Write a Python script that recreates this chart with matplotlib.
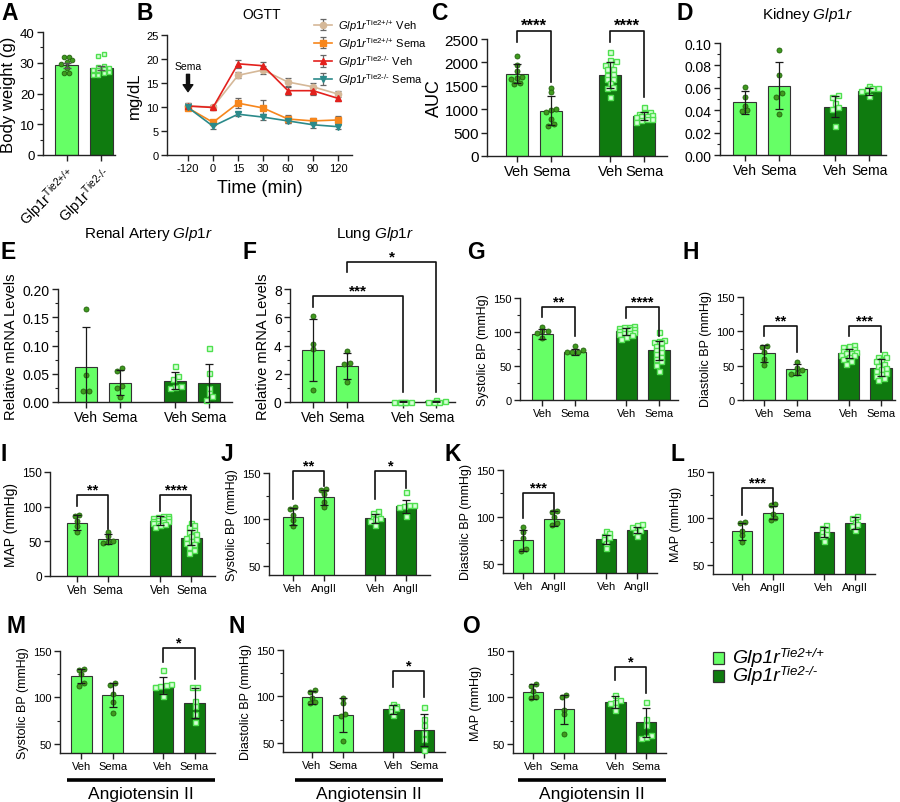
import numpy as np
import matplotlib
matplotlib.use('Agg')
import matplotlib.pyplot as plt
from matplotlib.patches import Rectangle
from matplotlib.lines import Line2D
from matplotlib.ticker import MultipleLocator

plt.rcParams['font.family'] = 'Liberation Sans'
plt.rcParams['mathtext.fontset'] = 'custom'
plt.rcParams['mathtext.rm'] = 'Liberation Sans'
plt.rcParams['mathtext.it'] = 'Liberation Sans:italic'
plt.rcParams['mathtext.bf'] = 'Liberation Sans:bold'
plt.rcParams['axes.linewidth'] = 1.0

# ---------------- data ----------------
# A: body weight
A_groups = [r'Glp1r$^{\text{Tie2+/+}}$', r'Glp1r$^{\text{Tie2-/-}}$']
A_means = [29.2, 28.4]
A_sem = [0.8, 0.6]
A_pts = [[31.8, 31.8, 31.0, 30.2, 29.7, 28.2, 26.7, 26.7],
         [32.9, 32.2, 29.1, 28.6, 28.3, 28.0, 27.8, 27.5, 27.0, 26.6, 26.1, 26.1]]

# B: OGTT
B_times = ['-120', '0', '15', '30', '60', '90', '120']
B_wt_veh = [10.2, 10.0, 16.6, 17.7, 15.2, 14.2, 12.7]
B_wt_veh_sem = [0.6, 0.5, 0.6, 0.9, 0.8, 0.8, 0.7]
B_wt_sema = [9.8, 6.8, 10.8, 9.8, 7.5, 7.1, 7.3]
B_wt_sema_sem = [0.5, 0.5, 1.1, 1.6, 0.8, 0.7, 0.9]
B_ko_veh = [10.2, 9.9, 19.0, 18.6, 13.4, 13.4, 11.8]
B_ko_veh_sem = [0.6, 0.5, 0.8, 0.8, 0.8, 0.8, 0.6]
B_ko_sema = [9.9, 6.0, 8.5, 7.9, 7.1, 6.3, 5.9]
B_ko_sema_sem = [0.5, 0.5, 0.4, 0.6, 0.5, 0.6, 0.5]
B_names = [r'$\mathit{Glp1r}^{\text{Tie2+/+}}$ Veh', r'$\mathit{Glp1r}^{\text{Tie2+/+}}$ Sema',
           r'$\mathit{Glp1r}^{\text{Tie2-/-}}$ Veh', r'$\mathit{Glp1r}^{\text{Tie2-/-}}$ Sema']

treat_sema = ['Veh', 'Sema', 'Veh', 'Sema']
treat_ang = ['Veh', 'AngII', 'Veh', 'AngII']

C_means = [1760, 970, 1730, 850]
C_sd = [210, 310, 270, 90]
C_pts = [[2140, 1940, 1820, 1680, 1660, 1640, 1570, 1540],
         [1450, 1360, 1000, 990, 930, 790, 680, 645],
         [2220, 2050, 2030, 1970, 1950, 1860, 1850, 1750, 1740, 1640, 1640, 1550, 1470, 1450, 1260],
         [1050, 950, 920, 900, 880, 860, 850, 830, 800, 780, 760, 730]]

D_means = [0.047, 0.062, 0.043, 0.057]
D_sd = [0.010, 0.021, 0.0095, 0.003]
D_pts = [[0.061, 0.052, 0.044, 0.040, 0.039],
         [0.094, 0.071, 0.055, 0.052, 0.037],
         [0.054, 0.052, 0.046, 0.043, 0.041, 0.026],
         [0.062, 0.060, 0.0595, 0.059, 0.057, 0.053]]

E_means = [0.062, 0.034, 0.038, 0.034]
E_sd = [0.070, 0.022, 0.015, 0.034]
E_pts = [[0.165, 0.047, 0.019, 0.019],
         [0.060, 0.055, 0.028, 0.024, 0.009],
         [0.063, 0.046, 0.040, 0.028, 0.026, 0.025],
         [0.095, 0.051, 0.025, 0.016, 0.010, 0.004]]

F_means = [3.7, 2.55, 0.03, 0.05]
F_sd = [2.2, 0.9, 0.01, 0.03]
F_pts = [[6.1, 4.1, 3.75, 0.85],
         [3.6, 2.75, 2.7, 1.4],
         [0.03, 0.03, 0.02, 0.02, 0.02, 0.03],
         [0.12, 0.08, 0.02, 0.02, 0.01]]

G_means = [97, 71, 101, 73]
G_sd = [7, 4.5, 5, 14]
G_pts = [[108, 102, 101, 98, 91],
         [79, 73, 71, 70, 70],
         [109, 108, 107, 106, 105, 104, 103, 102, 100, 99, 98, 97, 95, 93, 90],
         [100, 88, 87, 86, 85, 80, 77, 73, 70, 67, 63, 60, 57, 52, 43]]

H_means = [68, 45, 68, 47]
H_sd = [12, 8, 7, 12]
H_pts = [[79, 77, 70, 60, 51],
         [56, 47, 43, 40, 38],
         [80, 79, 77, 75, 72, 71, 70, 69, 68, 66, 65, 63, 60, 57, 53],
         [67, 63, 62, 58, 57, 52, 50, 47, 45, 42, 40, 38, 35, 32, 29]]

I_means = [77, 53, 80, 55]
I_sd = [11, 7, 6, 11]
I_pts = [[88, 86, 79, 72, 63],
         [63, 57, 51, 49, 48],
         [87, 86, 85, 84, 83, 82, 81, 80, 79, 78, 77, 76, 75, 73, 70],
         [77, 73, 70, 66, 63, 60, 57, 55, 53, 50, 48, 46, 42, 38, 33]]

J_means = [103, 124, 101, 114]
J_sd = [9, 8, 5, 7]
J_pts = [[113, 111, 105, 99, 93],
         [133, 132, 127, 119, 113],
         [109, 107, 104, 102, 101, 100, 98, 94],
         [129, 116, 115, 114, 113, 104]]

K_means = [75, 98, 76, 86]
K_sd = [11, 8, 5, 3.5]
K_pts = [[89, 84, 77, 66, 64],
         [106, 105, 100, 93, 91],
         [85, 83, 80, 78, 76, 72, 67],
         [92, 91, 89, 86, 84, 79]]

L_means = [86, 106, 85, 95]
L_sd = [9, 7, 5.5, 6]
L_pts = [[96, 95, 86, 82, 75],
         [115, 114, 105, 100, 98],
         [93, 90, 87, 85, 83, 81, 76],
         [103, 100, 96, 94, 92, 87]]

M_means = [123, 103, 113, 94]
M_sd = [8, 13, 9, 16]
M_pts = [[131, 130, 125, 115, 112],
         [116, 113, 104, 95, 83],
         [129, 114, 113, 112, 111, 101],
         [111, 111, 96, 91, 82, 73]]

N_means = [99, 80, 86, 64]
N_sd = [7, 18, 5, 17]
N_pts = [[107, 105, 98, 94, 93],
         [98, 93, 81, 79, 52],
         [92, 90, 88, 87, 84, 80],
         [89, 76, 69, 61, 54, 42]]

O_means = [106, 87, 95, 73]
O_sd = [8, 16, 6, 16]
O_pts = [[114, 112, 107, 100, 99],
         [103, 100, 86, 82, 61],
         [103, 97, 95, 94, 90, 86],
         [95, 77, 70, 59, 57, 56]]

legend_names = ['Tie2+/+', 'Tie2-/-']

# ---------------- style ----------------
LG = '#66ff66'
DG = '#0f7b0f'
WT_PT, WT_PT_E = '#3f9a1e', '#24620f'
KO_PT, KO_PT_E = '#d6ffd6', '#4fe04f'
EDGE = '#333333'

W, H = 900, 803
fig = plt.figure(figsize=(9, 8.03), dpi=100)


def px_axes(l, t, r, b):
    return fig.add_axes([l / W, 1 - b / H, (r - l) / W, (b - t) / H])


def style(ax, fs, xfs=None):
    for s in ['top', 'right']:
        ax.spines[s].set_visible(False)
    for s in ['left', 'bottom']:
        ax.spines[s].set_color('#222222')
    ax.tick_params(which='major', length=4, width=1, labelsize=fs, color='#222222', pad=2)
    ax.tick_params(which='minor', length=2.5, width=0.8, color='#222222')
    if xfs:
        ax.tick_params(axis='x', labelsize=xfs)


def swarm(vals, span, step=0.16):
    vals = np.asarray(vals, float)
    order = np.argsort(vals)
    offs = np.zeros(len(vals))
    rows, cur = [], [order[0]]
    for i in order[1:]:
        if vals[i] - vals[cur[0]] < 0.035 * span and len(cur) < 4:
            cur.append(i)
        else:
            rows.append(cur)
            cur = [i]
    rows.append(cur)
    for r in rows:
        k = len(r)
        offs[r] = (np.arange(k) - (k - 1) / 2) * step
    return offs


def dots(ax, x, vals, wt, span, ms=3.6):
    offs = swarm(vals, span)
    if wt:
        ax.plot(x + offs, vals, 'o', ms=ms, mfc=WT_PT, mec=WT_PT_E, mew=0.6, zorder=4, clip_on=False)
    else:
        ax.plot(x + offs, vals, 's', ms=ms, mfc=KO_PT, mec=KO_PT_E, mew=1.0, zorder=4, clip_on=False)


layout = {
    'C': dict(rect=(487, 40, 667, 157), g=2.74, xlim=(-0.88, 4.41), ylim=(0, 2500), major=500, minor=None,
              fs=11, xfs=10.5, lfs=13, ylabel='AUC', sfs=12,
              br=[(0, 1, 2670, 2435, 1580, '****'), (2, 3, 2670, 2435, 1260, '****')]),
    'D': dict(rect=(720, 44, 886, 156), g=2.62, xlim=(-0.71, 4.1), ylim=(0, 0.10), major=0.02, minor=0.01,
              fs=10, lfs=10, ylabel='', br=[], fmt='%.2f'),
    'E': dict(rect=(58, 290, 232, 403), g=2.67, xlim=(-0.84, 4.36), ylim=(0, 0.20), major=0.05, minor=0.025,
              fs=10, lfs=10.5, ylabel='Relative mRNA Levels', br=[], fmt='%.2f'),
    'F': dict(rect=(290, 290, 455, 403), g=2.65, xlim=(-0.68, 4.2), ylim=(0, 8), major=2, minor=1,
              fs=10, lfs=10.5, ylabel='Relative mRNA Levels', sfs=11,
              br=[(0, 2, 7.5, 6.7, 0.7, '***'), (1, 3, 9.9, 9.2, 0.7, '*')]),
    'G': dict(rect=(520, 299, 678, 401), g=2.58, xlim=(-0.69, 4.17), ylim=(0, 150), major=50, minor=25,
              fs=8, lfs=9, ylabel='Systolic BP (mmHg)',
              br=[(0, 1, 137, 122, 94, '**'), (2, 3, 137, 120, 94, '****')]),
    'H': dict(rect=(743, 298, 895, 401), g=2.6, xlim=(-0.65, 4.03), ylim=(0, 150), major=50, minor=25,
              fs=8, lfs=9, ylabel='Diastolic BP (mmHg)',
              br=[(0, 1, 108, 93, 70, '**'), (2, 3, 108, 93, 70, '***')]),
    'I': dict(rect=(50, 473, 215, 577), g=2.69, xlim=(-0.87, 4.45), ylim=(0, 150), major=50, minor=None,
              fs=8.5, lfs=10, ylabel='MAP (mmHg)',
              br=[(0, 1, 117, 101, 68, '**'), (2, 3, 117, 94, 72, '****')]),
    'J': dict(rect=(269, 474, 430, 576), g=2.65, xlim=(-0.77, 4.42), ylim=(40, 150), major=50, minor=25,
              fs=8, lfs=9, ylabel='Systolic BP (mmHg)',
              br=[(0, 1, 152, 122, 136, '**'), (2, 3, 152, 122, 134, '*')]),
    'K': dict(rect=(503, 471, 657, 574), g=2.68, xlim=(-0.65, 4.32), ylim=(40, 150), major=50, minor=25,
              fs=8, lfs=9, ylabel='Diastolic BP (mmHg)',
              br=[(0, 1, 125.5, 99, 107, '***')]),
    'L': dict(rect=(713, 473, 875, 575), g=2.65, xlim=(-0.94, 4.3), ylim=(40, 150), major=50, minor=25,
              fs=8, lfs=9, ylabel='MAP (mmHg)',
              br=[(0, 1, 132.5, 104, 115, '***')]),
    'M': dict(rect=(60, 652, 215, 754), g=2.6, xlim=(-0.67, 4.25), ylim=(40, 150), major=50, minor=25,
              fs=8, lfs=9, ylabel='Systolic BP (mmHg)',
              br=[(2, 3, 153, 138, 120, '*')]),
    'N': dict(rect=(283, 651, 445, 753), g=2.63, xlim=(-0.94, 4.3), ylim=(40, 150), major=50, minor=25,
              fs=8, lfs=9, ylabel='Diastolic BP (mmHg)',
              br=[(2, 3, 127, 110, 99, '*')]),
    'O': dict(rect=(513, 652, 666, 754), g=2.66, xlim=(-0.65, 4.3), ylim=(40, 150), major=50, minor=25,
              fs=8, lfs=9, ylabel='MAP (mmHg)',
              br=[(2, 3, 132.5, 119, 105, '*')]),
}


def bar_panel(key, means, sds, pts, labels):
    L = layout[key]
    ax = px_axes(*L['rect'])
    g = L['g']
    pos = [0, 1, g, g + 1]
    span = L['ylim'][1] - L['ylim'][0]
    for i in range(4):
        ax.bar(pos[i], means[i], width=0.66, color=LG if i < 2 else DG, edgecolor=EDGE, lw=0.8, zorder=1)
        dots(ax, pos[i], pts[i], i < 2, span)
        ax.errorbar(pos[i], means[i], yerr=sds[i], color='#1a1a1a', capsize=3, lw=0.9, capthick=0.9, zorder=5)
    ax.set_xlim(*L['xlim'])
    ax.set_ylim(*L['ylim'])
    ax.yaxis.set_major_locator(MultipleLocator(L['major']))
    if L['minor']:
        ax.yaxis.set_minor_locator(MultipleLocator(L['minor']))
    if 'fmt' in L:
        ax.yaxis.set_major_formatter(matplotlib.ticker.FormatStrFormatter(L['fmt']))
    ax.set_xticks(pos)
    ax.set_xticklabels(labels)
    style(ax, L['fs'], L.get('xfs'))
    if L['ylabel']:
        ax.set_ylabel(L['ylabel'], fontsize=L['lfs'], labelpad=3)
    for (i1, i2, yt, yl, yr, txt) in L['br']:
        x1, x2 = pos[i1], pos[i2]
        ax.plot([x1, x1, x2, x2], [yl, yt, yt, yr], color='#111111', lw=1.2, clip_on=False, zorder=6)
        ax.annotate(txt, ((x1 + x2) / 2, yt), xytext=(0, 1), textcoords='offset points',
                    ha='center', va='baseline', fontsize=L.get('sfs', 10.5), fontweight='bold',
                    annotation_clip=False)
    return ax


# ---------------- panel A ----------------
axA = px_axes(43, 33, 115, 156)
for i in range(2):
    axA.bar(i, A_means[i], width=0.66, color=LG if i == 0 else DG, edgecolor=EDGE, lw=0.8, zorder=1)
    dots(axA, i, A_pts[i], i == 0, 40, ms=3.4)
    axA.errorbar(i, A_means[i], yerr=A_sem[i], color='#555555', capsize=3, lw=0.9, zorder=5)
axA.set_xlim(-0.68, 1.4)
axA.set_ylim(0, 40)
axA.yaxis.set_major_locator(MultipleLocator(10))
axA.yaxis.set_minor_locator(MultipleLocator(5))
axA.set_xticks([0, 1])
axA.set_xticklabels(A_groups, rotation=45, ha='right', rotation_mode='anchor')
style(axA, 9.5, 10.5)
axA.set_ylabel('Body weight (g)', fontsize=12, labelpad=3)

# ---------------- panel B ----------------
axB = px_axes(167, 36, 352, 156)
bx = np.arange(len(B_times))
series = [(B_wt_veh, B_wt_veh_sem, '#d5b898', 'o'),
          (B_wt_sema, B_wt_sema_sem, '#f7861c', 's'),
          (B_ko_veh, B_ko_veh_sem, '#e3201c', '^'),
          (B_ko_sema, B_ko_sema_sem, '#2b8a8a', 'v')]
for (m, s, c, mk), name in zip(series, B_names):
    axB.errorbar(bx, m, yerr=s, color=c, marker=mk, ms=4.5, lw=1.2, ecolor='#666666',
                 elinewidth=0.9, capsize=2.5, capthick=0.9, label=name, zorder=3)
axB.set_xlim(-0.84, 6.56)
axB.set_ylim(0, 25)
axB.yaxis.set_major_locator(MultipleLocator(5))
axB.set_xticks(bx)
axB.set_xticklabels(B_times)
style(axB, 8)
axB.set_ylabel('mg/dL', fontsize=12, labelpad=3)
axB.set_xlabel('Time (min)', fontsize=13, labelpad=4)
axB.annotate('', xy=(0, 13.2), xytext=(0, 16.8),
             arrowprops=dict(facecolor='#111111', edgecolor='#111111', width=2.2, headwidth=7,
                             headlength=5, shrink=0))
axB.text(0, 17.6, 'Sema', ha='center', va='bottom', fontsize=7.5)
axB.legend(loc='upper left', bbox_to_anchor=(314 / W, 1 - 18 / H), bbox_transform=fig.transFigure,
           frameon=False, fontsize=8, handlelength=1.6, handletextpad=0.6, labelspacing=0.2,
           borderaxespad=0, borderpad=0)

# ---------------- bar panels ----------------
axC = bar_panel('C', C_means, C_sd, C_pts, treat_sema)
axD = bar_panel('D', D_means, D_sd, D_pts, treat_sema)
axE = bar_panel('E', E_means, E_sd, E_pts, treat_sema)
axF = bar_panel('F', F_means, F_sd, F_pts, treat_sema)
axG = bar_panel('G', G_means, G_sd, G_pts, treat_sema)
axH = bar_panel('H', H_means, H_sd, H_pts, treat_sema)
axI = bar_panel('I', I_means, I_sd, I_pts, treat_sema)
axJ = bar_panel('J', J_means, J_sd, J_pts, treat_ang)
axK = bar_panel('K', K_means, K_sd, K_pts, treat_ang)
axL = bar_panel('L', L_means, L_sd, L_pts, treat_ang)
axM = bar_panel('M', M_means, M_sd, M_pts, treat_sema)
axN = bar_panel('N', N_means, N_sd, N_pts, treat_sema)
axO = bar_panel('O', O_means, O_sd, O_pts, treat_sema)
axC.yaxis.labelpad = 1

# titles
fig.text(262 / W, 1 - 15 / H, 'OGTT', ha='center', va='center', fontsize=10)
fig.text(807 / W, 1 - 15 / H, r'Kidney $\mathit{Glp1r}$', ha='center', va='center', fontsize=11)
fig.text(148 / W, 1 - 234 / H, r'Renal Artery $\mathit{Glp1r}$', ha='center', va='center', fontsize=11)
fig.text(375 / W, 1 - 234 / H, r'Lung $\mathit{Glp1r}$', ha='center', va='center', fontsize=11)

# panel letters
letters = {'A': (1, 13), 'B': (136, 13), 'C': (431, 13), 'D': (677, 13),
           'E': (1, 253), 'F': (242, 253), 'G': (467, 253), 'H': (683, 253),
           'I': (1, 455), 'J': (221, 455), 'K': (444, 455), 'L': (671, 455),
           'M': (6, 627), 'N': (229, 627), 'O': (462, 627)}
for k, (x, y) in letters.items():
    fig.text(x / W, 1 - y / H, k, ha='left', va='center', fontsize=16.5, fontweight='bold')

# Angiotensin II group lines
for x0, x1 in [(67, 215), (295, 443), (518, 666)]:
    fig.add_artist(Line2D([x0 / W, x1 / W], [1 - 781 / H] * 2, transform=fig.transFigure,
                          color='black', lw=2.6, solid_capstyle='butt'))
    fig.text((x0 + x1) / 2 / W, 1 - 795 / H, 'Angiotensin II', ha='center', va='center', fontsize=12.5)

# genotype legend
renderer = fig.canvas.get_renderer()
for row, (yc, col) in enumerate([(659, LG), (677, DG)]):
    fig.add_artist(Rectangle((713 / W, 1 - (yc + 6) / H), 11 / W, 12 / H, transform=fig.transFigure,
                             facecolor=col, edgecolor=EDGE, lw=0.9))
    t = fig.text(732 / W, 1 - yc / H, 'Glp1r', ha='left', va='center', fontsize=14, style='italic')
    bb = t.get_window_extent(renderer)
    fig.text(bb.x1 / W + 0.5 / W, 1 - (yc - 5) / H, legend_names[row], ha='left', va='center',
             fontsize=9.5, style='italic')

fig.savefig('out.png', dpi=100)
